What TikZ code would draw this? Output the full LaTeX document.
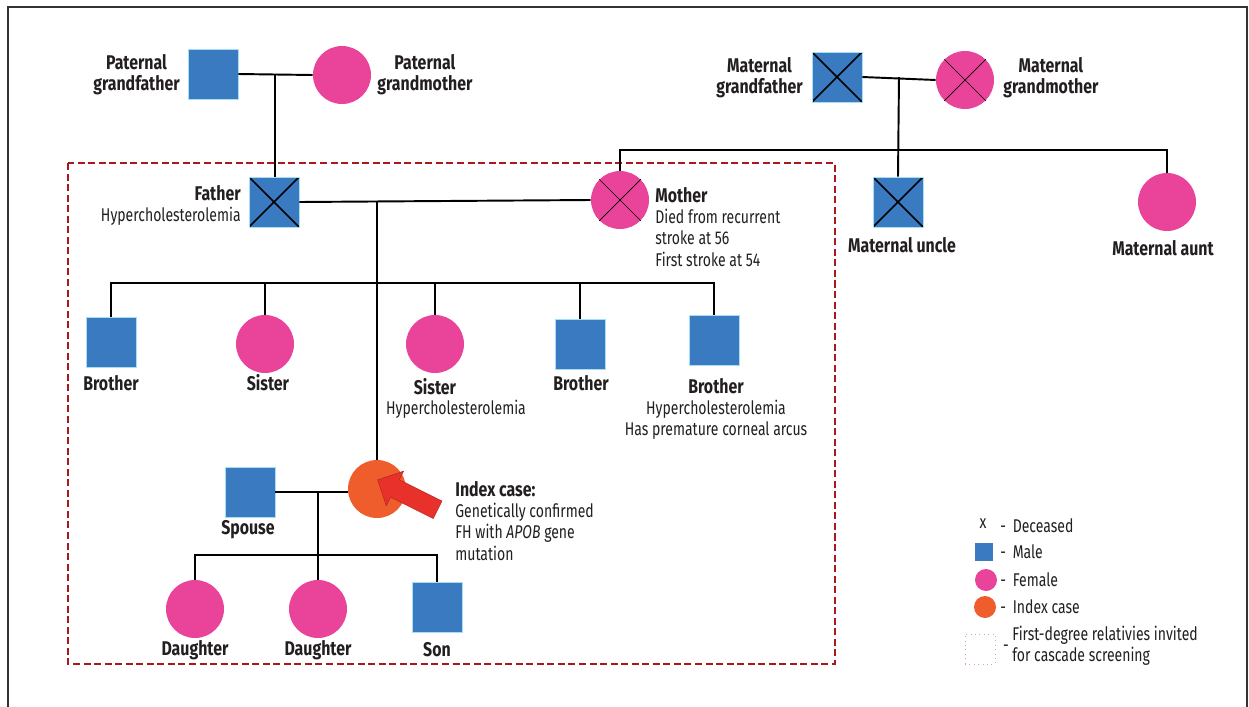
\documentclass[tikz,border=0pt]{standalone}
\usepackage{fontspec}
\setmainfont{Fira Sans}[FakeStretch=0.76, BoldFeatures={FakeStretch=0.8}]
\usetikzlibrary{calc,shapes.arrows}
\definecolor{mblue}{HTML}{3A7AC0}
\definecolor{fpink}{HTML}{E9449A}
\definecolor{iorange}{HTML}{EF5D2C}
\definecolor{arrowred}{HTML}{E8312B}
\definecolor{boxred}{HTML}{A8191E}
\definecolor{txt}{HTML}{231F20}
\newcommand\bl[1]{{\fontsize{11.3}{12}\selectfont\bfseries #1}}
\tikzset{
  male/.style={rectangle, fill=mblue, draw=mblue!60!cyan!40, line width=0.4pt, minimum size=1cm, inner sep=0pt},
  female/.style={circle, fill=fpink, minimum size=1.16cm, inner sep=0pt},
  indexc/.style={circle, fill=iorange, minimum size=1.16cm, inner sep=0pt},
  deceased/.style={path picture={\draw[black, line width=0.9pt] (path picture bounding box.north west) -- (path picture bounding box.south east) (path picture bounding box.north east) -- (path picture bounding box.south west);}},
  deccirc/.style={append after command={[black, line width=0.9pt] (\tikzlastnode.north west) edge (\tikzlastnode.south east) (\tikzlastnode.north east) edge (\tikzlastnode.south west)}},
  lbl/.style={font=\fontsize{11.3}{12}\selectfont\bfseries, text=txt, inner sep=0pt, align=center},
  nlbl/.style={font=\fontsize{10.5}{12}\selectfont, text=txt, inner sep=0pt},
  link/.style={black, line width=1.1pt},
}
\begin{document}
\begin{tikzpicture}[x=0.02cm, y=-0.02cm]
\useasboundingbox (0,0) rectangle (1249,707);
\fill[white] (0,0) rectangle (1249,707);
\draw[black!80, line width=0.6pt] (8,707) -- (8,7) -- (1247,7) -- (1247,707);

% first-degree box
\draw[boxred, line width=1.4pt, dash pattern=on 4pt off 2pt] (68,163) rectangle (835,664);

% people
\node[male] (pgf) at (213,74) {};
\node[female] (pgm) at (342,75) {};
\node[male, deceased] (mgf) at (837,77) {};
\node[female, deccirc] (mgm) at (965,80) {};
\node[male, deceased] (fa) at (274,202) {};
\node[female, deccirc] (mo) at (620,200) {};
\node[male, deceased] (mu) at (898,202) {};
\node[female] (ma) at (1167,202) {};
\node[male] (b1) at (111,342) {};
\node[female] (s1) at (265,344) {};
\node[female] (s2) at (435,344) {};
\node[male] (b2) at (580,344) {};
\node[male] (b3) at (714,340) {};
\node[male] (sp) at (250,492) {};
\node[indexc] (ix) at (377,489) {};
\node[female] (d1) at (195,609) {};
\node[female] (d2) at (318,609) {};
\node[male] (so) at (437,607) {};

% connectors
\draw[link] (pgf.east) -- (pgm.west);
\coordinate (pj) at (275,74);
\draw[link] (pj) -- (pj |- fa.north);

\draw[link] (mgf.east) -- (mgm.west);
\coordinate (mj) at (899,77);
\coordinate (msl) at (899,150);
\draw[link] (mj) -- (mu.north);
\draw[link] (mo.north) |- (msl) -| (ma.north);

\draw[link] (fa.east) -- (mo.west);
\coordinate (fj) at (377,202);
\draw[link] (fj) -- (ix.north);
\coordinate (sl) at (377,283);
\draw[link] (b1.north) |- (sl) -| (b3.north);
\draw[link] (s1.north) -- (s1.north |- sl);
\draw[link] (s2.north) -- (s2.north |- sl);
\draw[link] (b2.north) -- (b2.north |- sl);

\draw[link] (sp.east) -- (sp.east -| ix.west);
\coordinate (cj) at (318,492);
\coordinate (cl) at (318,555);
\draw[link] (cj) -- (d2.north);
\draw[link] (d1.north) |- (cl) -| (so.north);

% arrow
\node[single arrow, fill=arrowred, draw=arrowred!80!black, line width=0.3pt, minimum height=1.34cm, inner sep=0.19cm, single arrow head extend=0.19cm, rotate=153.4] (arr) at (412,497) {};

% labels
\node[lbl, anchor=east] (lpgf) at (180,75) {Paternal\\grandfather};
\node[lbl, anchor=west] (lpgm) at (377,75) {Paternal\\grandmother};
\node[lbl, anchor=east] (lmgf) at (803,78) {Maternal\\grandfather};
\node[lbl, anchor=west] (lmgm) at (1003,78) {Maternal\\grandmother};
\node[nlbl, anchor=east, align=right] (lfa) at (241,205) {\bl{Father}\\Hypercholesterolemia};
\node[nlbl, anchor=west, align=left] (lmo) at (655,227) {\bl{Mother}\\Died from recurrent\\stroke at 56\\First stroke at 54};
\node[lbl] (lmu) at (902,245) {Maternal uncle};
\node[lbl] (lma) at (1163,248) {Maternal aunt};
\node[lbl] (lb1) at (111,383) {Brother};
\node[lbl] (ls1) at (268,383) {Sister};
\node[lbl] (ls2) at (435,387) {Sister};
\node[nlbl] (ls2b) at (456,409) {Hypercholesterolemia};
\node[lbl] (lb2) at (581,383) {Brother};
\node[nlbl, align=center] (lb3) at (716,409) {\bl{Brother}\\Hypercholesterolemia\\Has premature corneal arcus};
\node[lbl] (lsp) at (248,530) {Spouse};
\node[nlbl, anchor=west, align=left] (lix) at (455,521) {\bl{Index case:}\\Genetically confirmed\\FH with \textit{APOB} gene\\mutation};
\node[lbl] (ld1) at (195,650) {Daughter};
\node[lbl] (ld2) at (318,650) {Daughter};
\node[lbl] (lso) at (437,650) {Son};

% legend
\node[nlbl] (kx) at (983,524) {x};
\node[nlbl, anchor=west] (kd) at (1000,526) {-\, Deceased};
\node[rectangle, fill=mblue, minimum size=0.36cm, inner sep=0pt] (km) at (984,552) {};
\node[nlbl, anchor=west] (kmt) at (1000,552) {-\, Male};
\node[circle, fill=fpink, minimum size=0.44cm, inner sep=0pt] (kf) at (986,580) {};
\node[nlbl, anchor=west] (kft) at (1000,580) {-\, Female};
\node[circle, fill=iorange, minimum size=0.44cm, inner sep=0pt] (ki) at (985,607) {};
\node[nlbl, anchor=west] (kit) at (1000,607) {-\, Index case};
\node[rectangle, draw=boxred!40, dotted, line width=0.5pt, minimum size=0.6cm, inner sep=0pt] (kb) at (980,649) {};
\node[nlbl] (kbd) at (1006,648) {-};
\node[nlbl, anchor=west, align=left] (kbt) at (1012,646) {First-degree relativies invited\\for cascade screening};
\end{tikzpicture}
\end{document}
